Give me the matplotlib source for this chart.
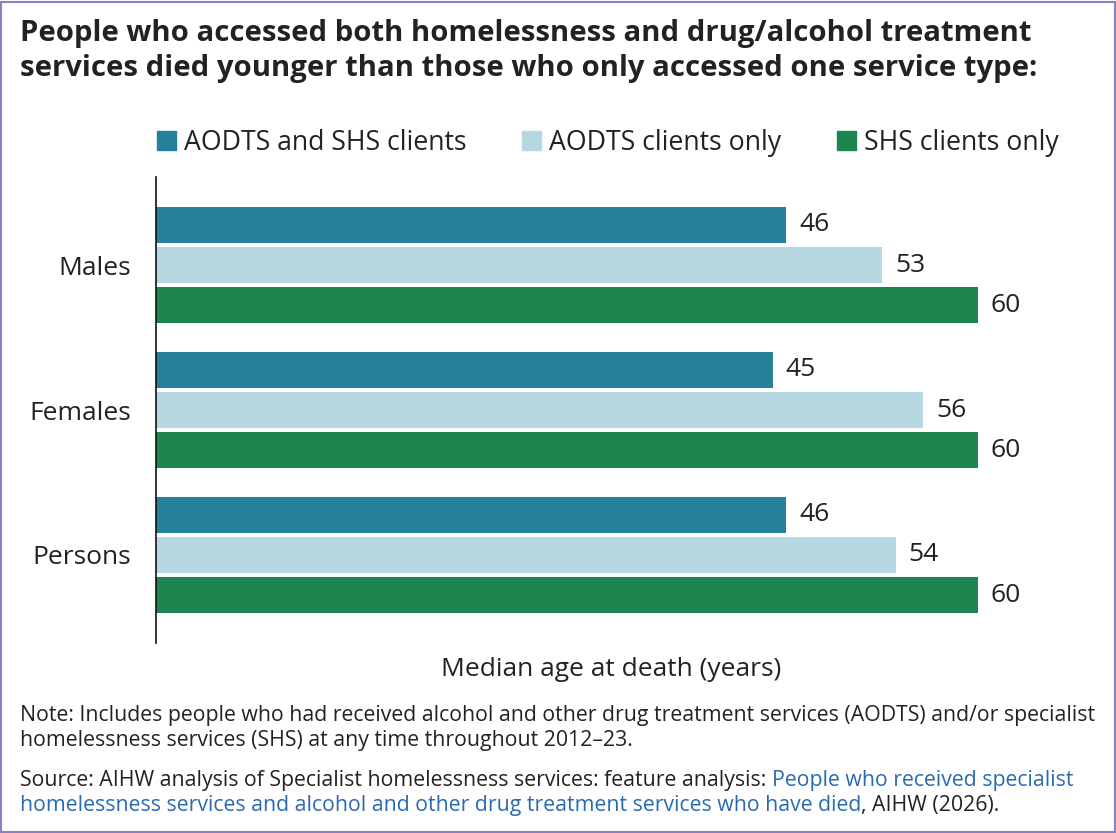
import numpy as np
import matplotlib.pyplot as plt
from matplotlib.patches import Rectangle, Patch

plt.rcParams['font.family'] = ['Open Sans', 'DejaVu Sans']

groups = ["Males", "Females", "Persons"]
series = ["AODTS and SHS clients", "AODTS clients only", "SHS clients only"]
both = [46, 45, 46]
aodts_only = [53, 56, 54]
shs_only = [60, 60, 60]
colours = ["#25809a", "#b6d8e2", "#1c8550"]

txt = "#222222"
link = "#2a6ab0"

fig = plt.figure(figsize=(11.16, 8.33), dpi=100)
ax = fig.add_axes([156 / 1116, 1 - 643 / 833, (1066 - 156) / 1116, (643 - 177) / 833])

y = np.arange(len(groups))
h = 0.25
off = 0.276
for i, (vals, col) in enumerate(zip([both, aodts_only, shs_only], colours)):
    bars = ax.barh(y + (i - 1) * off, vals, height=h, color=col, label=series[i])
    ax.bar_label(bars, padding=9, fontsize=19, color=txt)

ax.set_ylim(2.607, -0.607)
ax.set_xlim(0, 66.4)
ax.set_yticks(y)
ax.set_yticklabels(groups, fontsize=19, color=txt)
ax.tick_params(axis='y', length=0, pad=18)
ax.set_xticks([])
for s in ["top", "right", "bottom"]:
    ax.spines[s].set_visible(False)
ax.spines["left"].set_color("#111111")
ax.spines["left"].set_linewidth(1.2)
ax.set_xlabel("Median age at death (years)", fontsize=19, color=txt, labelpad=10)

handles = [Patch(color=c) for c in colours]
fig.legend(handles, series, loc="center left", bbox_to_anchor=(133 / 1116, 1 - 143 / 833),
           ncol=3, frameon=False, fontsize=19.2, handlelength=0.72, handleheight=0.72,
           handletextpad=0.28, columnspacing=2.1, labelcolor=txt)

fig.text(20 / 1116, 1 - 51 / 833,
         "People who accessed both homelessness and drug/alcohol treatment\n"
         "services died younger than those who only accessed one service type:",
         fontsize=21.1, fontweight="bold", color=txt, va="center", linespacing=1.3)

fig.text(20 / 1116, 1 - 728 / 833,
         "Note: Includes people who had received alcohol and other drug treatment services (AODTS) and/or specialist\n"
         "homelessness services (SHS) at any time throughout 2012\u201323.",
         fontsize=15.3, color=txt, va="center", linespacing=1.3)

# source line, pieces chained one after another
t1 = fig.text(20 / 1116, 1 - 791 / 833,
              "Source: AIHW analysis of Specialist homelessness services: feature analysis: ",
              fontsize=15.3, color=txt, va="bottom")
ax.annotate("People who received specialist", xy=(1, 0), xycoords=t1,
            fontsize=15.3, color=link, va="bottom", annotation_clip=False)
t3 = fig.text(20 / 1116, 1 - 816 / 833,
              "homelessness services and alcohol and other drug treatment services who have died",
              fontsize=15.3, color=link, va="bottom")
ax.annotate(", AIHW (2026).", xy=(1, 0), xycoords=t3,
            fontsize=15.3, color=txt, va="bottom", annotation_clip=False)

fig.patches.append(Rectangle((0.001, 0.001), 0.998, 0.997, transform=fig.transFigure,
                             fill=False, edgecolor="#8a80c0", linewidth=1.5))

fig.savefig("out.png", dpi=100, facecolor="white")
